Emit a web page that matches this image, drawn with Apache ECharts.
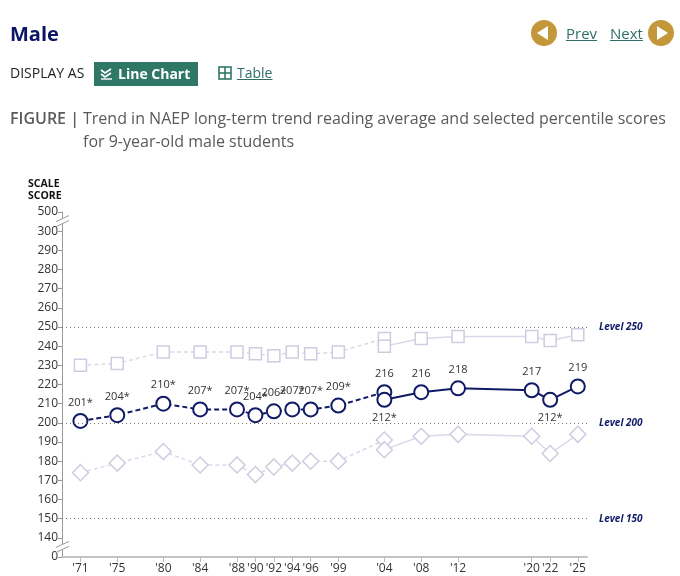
<!DOCTYPE html>
<html>
<head>
<meta charset="utf-8">
<script src="https://cdn.jsdelivr.net/npm/echarts@6/dist/echarts.min.js"></script>
<style>
  body { margin: 0; font-family: "Open Sans", "Noto Sans", sans-serif; background: #fff; }
  #wrap { position: relative; width: 680px; height: 576px; overflow: hidden; }
  #chart { position: absolute; left: 0; top: 0; width: 680px; height: 576px; }
  .abs { position: absolute; white-space: nowrap; }
  .male { left: 10px; top: 20px; font-size: 20px; font-weight: 700; color: #0d1666; }
  .circ { width: 26px; height: 26px; border-radius: 50%; background: #c4973a; }
  .link { color: #2f6f68; text-decoration: underline; font-size: 15px; }
  .disp { left: 10px; top: 63px; font-size: 14px; color: #222; }
  .btn { left: 94px; top: 62px; width: 104px; height: 24px; background: #2f7867; color: #fff; font-weight: 700; font-size: 14px; }
  .fig { left: 10px; top: 107px; font-size: 16px; color: #5a5a5a; line-height: 23px; }
</style>
</head>
<body>
<div id="wrap">
  <div id="chart"></div>
  <div class="abs male">Male</div>
  <div class="abs circ" style="left:531px;top:20px;">
    <div style="position:absolute;left:6px;top:6px;width:0;height:0;border-top:7px solid transparent;border-bottom:7px solid transparent;border-right:11px solid #fff;"></div>
  </div>
  <div class="abs link" style="left:566px;top:23px;">Prev</div>
  <div class="abs link" style="left:610px;top:23px;">Next</div>
  <div class="abs circ" style="left:648px;top:20px;">
    <div style="position:absolute;left:9px;top:6px;width:0;height:0;border-top:7px solid transparent;border-bottom:7px solid transparent;border-left:11px solid #fff;"></div>
  </div>
  <div class="abs disp">DISPLAY AS</div>
  <div class="abs btn">
    <svg style="position:absolute;left:6px;top:6px" width="13" height="12" viewBox="0 0 13 12">
      <polyline points="1,2 5,5 11,1" fill="none" stroke="#fff" stroke-width="1.6"/>
      <polyline points="1,6 5,9 11,5" fill="none" stroke="#fff" stroke-width="1.6"/>
      <line x1="1" y1="11" x2="12" y2="11" stroke="#fff" stroke-width="1.4"/>
    </svg>
    <span style="position:absolute;left:24px;top:2px;">Line Chart</span>
  </div>
  <svg class="abs" style="left:218px;top:66px" width="14" height="14" viewBox="0 0 14 14">
    <rect x="1" y="1" width="12" height="12" fill="none" stroke="#2f7867" stroke-width="1.6"/>
    <line x1="7" y1="1" x2="7" y2="13" stroke="#2f7867" stroke-width="1.6"/>
    <line x1="1" y1="7" x2="13" y2="7" stroke="#2f7867" stroke-width="1.6"/>
  </svg>
  <div class="abs link" style="left:237px;top:63px;font-size:14px;">Table</div>
  <div class="abs fig"><span style="font-weight:600;">FIGURE |</span></div>
  <div class="abs fig" style="left:83px;">Trend in NAEP long-term trend reading average and selected percentile scores<br>for 9-year-old male students</div>
</div>
<script>
// original assessment format (dashed) and revised format (solid)
var years1 = [1971, 1975, 1980, 1984, 1988, 1990, 1992, 1994, 1996, 1999, 2004];
var years2 = [2004, 2008, 2012, 2020, 2022, 2025];
var avg1 = [201, 204, 210, 207, 207, 204, 206, 207, 207, 209, 216];
var avg2 = [212, 216, 218, 217, 212, 219];
// * significantly different from 2025
var sig1 = [1, 1, 1, 1, 1, 1, 1, 1, 1, 1, 0];
var sig2 = [1, 0, 0, 0, 1, 0];
var p75a = [230, 231, 237, 237, 237, 236, 235, 237, 236, 237, 244];
var p75b = [240, 244, 245, 245, 243, 246];
var p10a = [174, 179, 185, 178, 178, 173, 177, 179, 180, 180, 191];
var p10b = [186, 193, 194, 193, 184, 194];
var tickYears = [1971, 1975, 1980, 1984, 1988, 1990, 1992, 1994, 1996, 1999, 2004, 2008, 2012, 2020, 2022, 2025];
var levels = [250, 200, 150];

var navy = '#101a66';
var light = '#d9d9e9';
var lightBorder = '#cdcde2';

function pairs(xs, ys) {
    return ys.map(function (v, i) { return [xs[i], v]; });
}

function avgData(xs, ys, sig, solid) {
    return ys.map(function (v, i) {
        var below = solid && (i === 0 || (i < ys.length - 1 && v < ys[i - 1] && v < ys[i + 1]));
        return {
            value: [xs[i], v],
            label: { formatter: v + (sig[i] ? '*' : ''), position: below ? 'bottom' : 'top' }
        };
    });
}

function lightSeries(data, symbol, size, dashed) {
    return {
        type: 'line', data: data, symbol: symbol, symbolSize: size,
        lineStyle: { color: light, width: 1.5, type: dashed ? [4, 3] : 'solid' },
        itemStyle: { color: '#fff', borderColor: lightBorder, borderWidth: 1.5 },
        z: 2
    };
}

var avgLabel = { show: true, color: '#333', fontSize: 11, distance: 5 };

var chart = echarts.init(document.getElementById('chart'));
chart.setOption({
    animation: false,
    textStyle: { fontFamily: 'Open Sans' },
    grid: { left: 62, right: 93, top: 212, bottom: 19 },
    xAxis: {
        type: 'value', min: 1969, max: 2026,
        splitLine: { show: false },
        axisLine: { show: true, onZero: false, lineStyle: { color: '#c4c4c4', width: 2 } },
        axisTick: { show: true, customValues: tickYears, length: 5, lineStyle: { color: '#bbb' } },
        axisLabel: {
            customValues: tickYears, color: '#333', fontSize: 12, margin: 6,
            formatter: function (v) { return "'" + String(v).slice(2); }
        }
    },
    yAxis: {
        type: 'value', min: 130, max: 310, interval: 10,
        splitLine: { show: false },
        axisLine: { show: true, lineStyle: { color: '#999' } },
        axisTick: { show: true, length: 4, lineStyle: { color: '#999' } },
        axisLabel: {
            color: '#333', fontSize: 12, margin: 4,
            formatter: function (v) { return v === 130 ? '0' : v === 310 ? '500' : v; }
        }
    },
    series: [
        lightSeries(pairs(years1, p75a), 'rect', 12, true),
        lightSeries(pairs(years2, p75b), 'rect', 12, false),
        lightSeries(pairs(years1, p10a), 'diamond', 16, true),
        lightSeries(pairs(years2, p10b), 'diamond', 16, false),
        {
            type: 'line', data: avgData(years1, avg1, sig1, false),
            symbol: 'circle', symbolSize: 14,
            lineStyle: { color: navy, width: 2, type: [5, 3] },
            itemStyle: { color: '#fff', borderColor: navy, borderWidth: 2 },
            label: avgLabel, z: 4,
            markLine: {
                silent: true, symbol: 'none',
                lineStyle: { color: '#777', type: [1, 3], width: 1 },
                label: {
                    position: 'end', distance: 12, color: navy, fontSize: 10,
                    fontWeight: 'bold', fontStyle: 'italic',
                    formatter: function (p) { return 'Level ' + p.value; }
                },
                data: levels.map(function (l) { return { yAxis: l }; })
            }
        },
        {
            type: 'line', data: avgData(years2, avg2, sig2, true),
            symbol: 'circle', symbolSize: 14,
            lineStyle: { color: navy, width: 2 },
            itemStyle: { color: '#fff', borderColor: navy, borderWidth: 2 },
            label: avgLabel, z: 5
        }
    ]
});

// scale breaks on the y axis (0 -> 140 and 300 -> 500)
function breakMark(v) {
    var p = chart.convertToPixel({ gridIndex: 0 }, [1969, v]);
    var x = p[0], y = p[1];
    return [
        { type: 'polygon', shape: { points: [[x - 6, y + 5], [x + 6, y - 1], [x + 6, y - 6], [x - 6, y]] },
          style: { fill: '#fff' }, z: 10 },
        { type: 'line', shape: { x1: x - 6, y1: y + 5, x2: x + 7, y2: y - 1 }, style: { stroke: '#999', lineWidth: 1 }, z: 11 },
        { type: 'line', shape: { x1: x - 6, y1: y, x2: x + 7, y2: y - 6 }, style: { stroke: '#999', lineWidth: 1 }, z: 11 }
    ];
}
chart.setOption({
    graphic: breakMark(305).concat(breakMark(135)).concat([
        { type: 'text', left: 28, top: 178, z: 12,
          style: { text: 'SCALE\nSCORE', font: 'bold 10.5px "Open Sans"', fill: '#111', lineHeight: 12 } }
    ])
});
</script>
</body>
</html>
